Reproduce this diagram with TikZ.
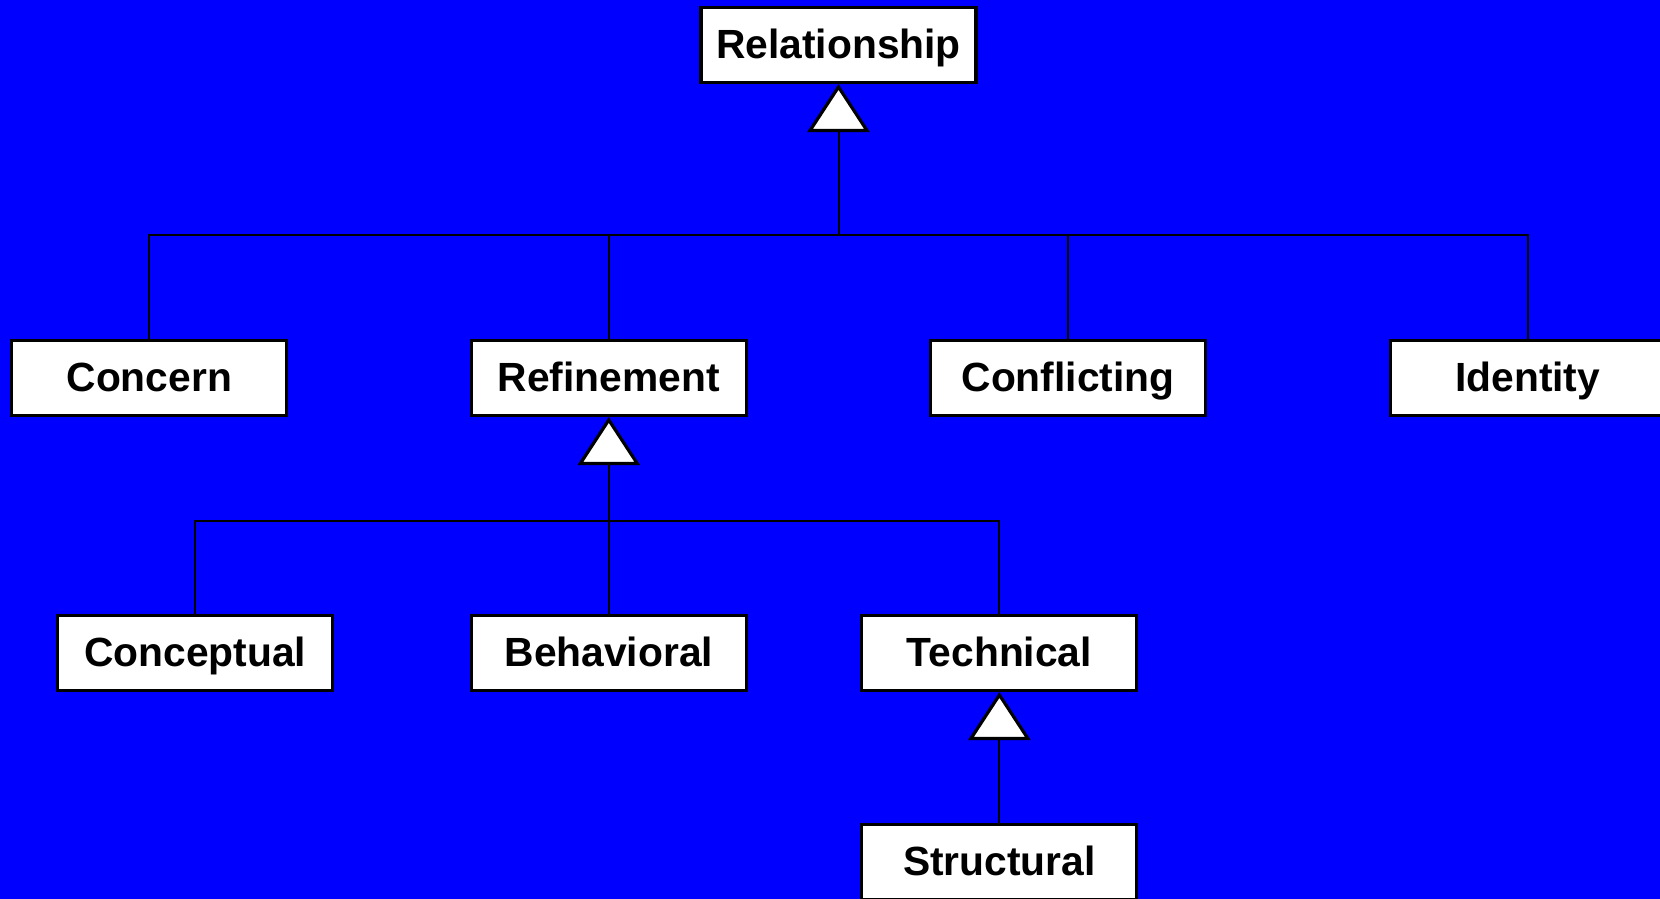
\documentclass[tikz,border=0pt]{standalone}
\usepackage{fontspec}
\setmainfont{Liberation Sans}
\usetikzlibrary{arrows.meta}
\definecolor{fondo}{HTML}{0000FF}
\tikzset{
  clase/.style={draw=black,fill=white,line width=0.9pt,minimum width=2.75cm,minimum height=0.75cm,
    inner sep=0pt,text height=8.3pt,text depth=0.4pt,font=\fontsize{11.6}{13}\selectfont\bfseries},
  herencia/.style={-{Triangle[open,fill=white,length=4.8mm,width=6.2mm,line width=0.9pt]},line width=0.57pt},
  linea/.style={line width=0.57pt},
}
\begin{document}
\begin{tikzpicture}
  \useasboundingbox (0,0) rectangle (16.6,-8.99);
  \fill[fondo] (0,0) rectangle (16.6,-8.99);
  % clases
  \node[clase] (r0) at (8.385,-0.45) {Relationship};
  \node[clase] (n1) at (1.493,-3.78) {Concern};
  \node[clase] (n2) at (6.088,-3.78) {Refinement};
  \node[clase] (n3) at (10.68,-3.78) {Conflicting};
  \node[clase] (n4) at (15.277,-3.78) {Identity};
  \node[clase] (m1) at (1.953,-6.53) {Conceptual};
  \node[clase] (m2) at (6.088,-6.53) {Behavioral};
  \node[clase] (m3) at (9.994,-6.53) {Technical};
  \node[clase] (k1) at (9.994,-8.62) {Structural};
  % herencia
  \coordinate (j1) at (8.385,-2.35);
  \coordinate (j2) at (6.088,-5.21);
  \foreach \a in {n1,n2,n3,n4}
    \draw[linea] (\a.north) |- (j1);
  \foreach \a in {m1,m2,m3}
    \draw[linea] (\a.north) |- (j2);
  \draw[herencia] (j1) -- (r0.south);
  \draw[herencia] (j2) -- (n2.south);
  \draw[herencia] (k1.north) -- (m3.south);
\end{tikzpicture}
\end{document}
